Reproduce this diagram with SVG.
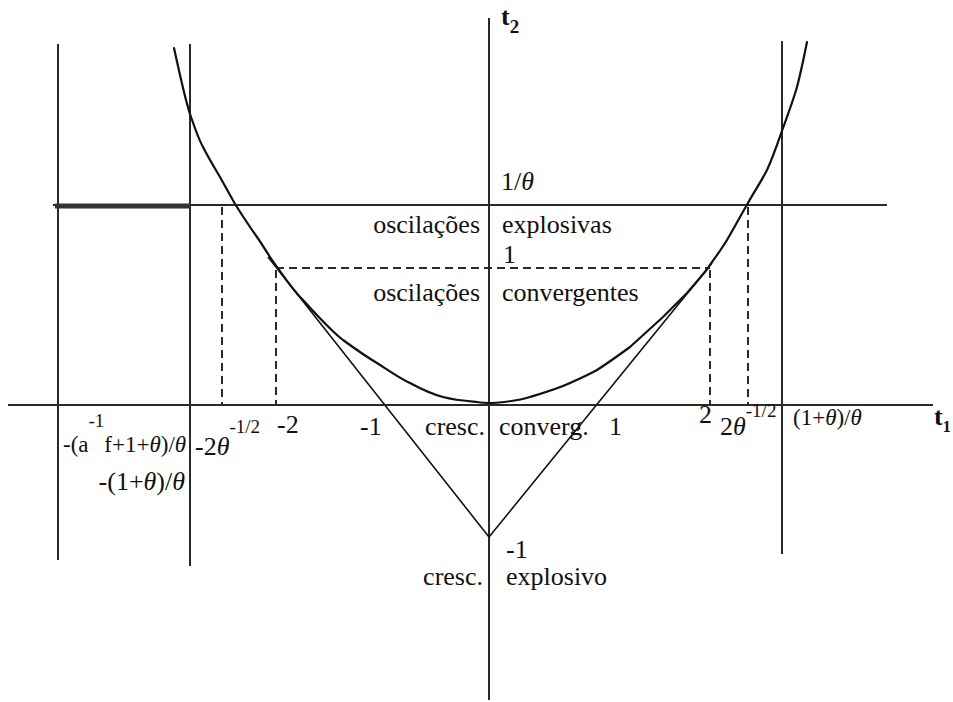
<svg xmlns="http://www.w3.org/2000/svg" width="953" height="702" viewBox="0 0 953 702">
<style>
  .ax { stroke:#2a2a2a; stroke-width:2; fill:none; }
  .ln { stroke:#111; stroke-width:1.6; fill:none; }
  .cv { stroke:#111; stroke-width:2.2; fill:none; stroke-linejoin:round; stroke-linecap:round; }
  .ds { stroke:#2a2a2a; stroke-width:2; fill:none; stroke-dasharray:8 5; }
  .tx { font-family:"Liberation Serif","Times New Roman",serif; font-size:26px; fill:#111; }
  .sm { font-size:19px; }
  .it { font-style:italic; }
  .bd { font-weight:bold; }
</style>
<rect width="953" height="702" fill="#fff"/>
<g id="axes">
  <line class="ax" x1="8" y1="405" x2="933" y2="405"/>
  <line class="ax" x1="489" y1="18" x2="489" y2="700"/>
  <line class="ax" x1="58" y1="44" x2="58" y2="560"/>
  <line class="ax" x1="190" y1="44" x2="190" y2="566"/>
  <line class="ax" x1="782" y1="41" x2="782" y2="554"/>
  <line class="ax" x1="53" y1="205" x2="887" y2="205"/>
  <line x1="55" y1="206" x2="190" y2="206" stroke="#333" stroke-width="5"/>
</g>
<g id="dashed">
  <line class="ds" x1="276" y1="268" x2="710" y2="268"/>
  <line class="ds" x1="276" y1="270" x2="276" y2="405"/>
  <line class="ds" x1="710" y1="270" x2="710" y2="405"/>
  <line class="ds" x1="222" y1="207" x2="222" y2="405"/>
  <line class="ds" x1="748" y1="207" x2="748" y2="405" stroke-dasharray="5 4"/>
</g>
<g id="connectors">
  <polyline class="ln" points="268,257 489,537 712,263"/>
  <path class="cv" d="M174,48 C180,75 185,100 191,117 C195,128 198,138 203,147 C208,157 214,167 220,177 C225,186 230,195 235,204 C242,215 249,226 257,237 C264,247 270,258 277,267 C285,278 293,290 303,300 C316,314 329,329 343,340 C354,348 365,356 377,363 C388,370 399,378 410,383 C421,389 432,394 443,397 C454,400 466,401 477,402 C483,403 488,403 493,403 C506,402 518,401 530,397 C543,393 557,389 570,383 C579,379 588,375 597,370 C608,363 619,355 630,347 C641,337 652,327 663,317 C671,309 679,301 687,293 C694,285 701,277 708,268 C714,259 721,250 727,240 C734,228 741,215 748,203 C754,192 761,182 767,170 C773,157 778,142 783,128 C788,114 793,101 797,87 C801,72 804,57 807,42"/>
</g>
<g id="labels">
  <text class="tx bd" x="501" y="25">t<tspan class="sm" dy="8">2</tspan></text>
  <text class="tx" x="501" y="190">1/<tspan class="it">θ</tspan></text>
  <text class="tx" x="480" y="233" text-anchor="end">oscilações</text>
  <text class="tx" x="502" y="233">explosivas</text>
  <text class="tx" x="503" y="263">1</text>
  <text class="tx" x="480" y="301" text-anchor="end">oscilações</text>
  <text class="tx" x="502" y="301">convergentes</text>

  <text class="tx" x="63" y="452" style="font-size:23px">-(a<tspan style="font-size:19px" dy="-25">-1</tspan><tspan dy="25">f+1+</tspan><tspan class="it">θ</tspan>)/<tspan class="it">θ</tspan></text>
  <text class="tx" x="185" y="490" text-anchor="end">-(1+<tspan class="it">θ</tspan>)/<tspan class="it">θ</tspan></text>
  <text class="tx" x="195" y="455">-2<tspan class="it">θ</tspan><tspan class="sm" dy="-22">-1/2</tspan></text>
  <text class="tx" x="277" y="433">-2</text>
  <text class="tx" x="360" y="435">-1</text>
  <text class="tx" x="485" y="435" text-anchor="end">cresc.</text>
  <text class="tx" x="499" y="435">converg.</text>
  <text class="tx" x="609" y="435">1</text>
  <text class="tx" x="699" y="423">2</text>
  <text class="tx" x="720" y="435">2<tspan class="it">θ</tspan><tspan class="sm" dy="-18">-1/2</tspan></text>
  <text class="tx" x="793" y="425" style="font-size:23px">(1+<tspan class="it">θ</tspan>)/<tspan class="it">θ</tspan></text>
  <text class="tx bd" x="934" y="425">t<tspan style="font-size:16px" dy="7">1</tspan></text>

  <text class="tx" x="506" y="558">-1</text>
  <text class="tx" x="483" y="585" text-anchor="end">cresc.</text>
  <text class="tx" x="506" y="585">explosivo</text>
</g>
</svg>
